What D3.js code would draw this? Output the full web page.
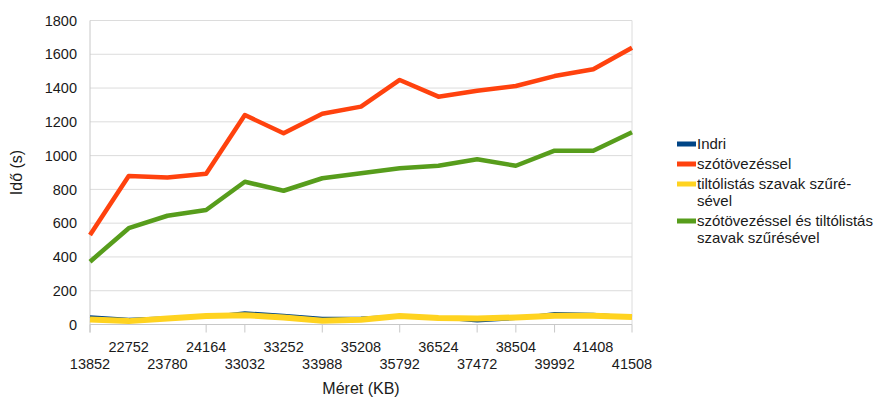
<!DOCTYPE html>
<html>
<head>
<meta charset="utf-8">
<script src="https://cdn.jsdelivr.net/npm/d3@7"></script>
<style>
  body { margin: 0; background: #fff; }
  text { font-family: "Liberation Sans", Arial, sans-serif; fill: #1a1a1a; }
</style>
</head>
<body>
<script>
// categories (file size, KB)
const sizes = ['13852', '22752', '23780', '24164', '33032', '33252', '33988', '35208',
    '35792', '36524', '37472', '38504', '39992', '41408', '41508'];

// series values (seconds)
const indri = [46, 31, 40, 45, 70, 55, 37, 38, 50, 40, 20, 35, 65, 60, 45];
const stemming = [530, 879, 871, 893, 1240, 1132, 1248, 1290, 1448, 1349, 1384, 1412, 1471, 1511, 1639];
const stopwords = [30, 20, 35, 50, 55, 42, 22, 28, 50, 38, 35, 42, 52, 52, 45];
const stemmingStop = [372, 570, 644, 678, 845, 792, 866, 895, 925, 940, 978, 940, 1029, 1029, 1138];

const yTicks = [0, 200, 400, 600, 800, 1000, 1200, 1400, 1600, 1800];
// category positions that carry a tick mark in the original
const tickIndices = [0, 3, 4, 6, 8, 10, 11, 12, 14];

const series = [
    { name: ['Indri'], values: indri, color: '#004586', width: 3 },
    { name: ['szótövezéssel'], values: stemming, color: '#ff420e', width: 4.5 },
    { name: ['tiltólistás szavak szűré-', 'sével'], values: stopwords, color: '#ffd320', width: 6 },
    { name: ['szótövezéssel és tiltólistás', 'szavak szűrésével'], values: stemmingStop, color: '#579d1c', width: 4.5 }
];

const width = 876, height = 398;
const margin = { top: 20.5, right: 244, bottom: 73.5, left: 90 };

const svg = d3.select('body').append('svg')
    .attr('width', width)
    .attr('height', height);

const x = d3.scalePoint()
    .domain(sizes)
    .range([margin.left, width - margin.right]);

const y = d3.scaleLinear()
    .domain([0, 1800])
    .range([height - margin.bottom, margin.top]);

// grid
svg.append('g')
    .selectAll('line')
    .data(yTicks.slice(1))
    .join('line')
    .attr('x1', margin.left).attr('x2', width - margin.right)
    .attr('y1', d => y(d)).attr('y2', d => y(d))
    .attr('stroke', '#dcdcdc');

// frame: left axis, right edge, bottom axis
svg.append('line')
    .attr('x1', margin.left).attr('x2', margin.left)
    .attr('y1', y(1800)).attr('y2', y(0) + 8)
    .attr('stroke', '#c8c8c8');
svg.append('line')
    .attr('x1', width - margin.right).attr('x2', width - margin.right)
    .attr('y1', y(1800)).attr('y2', y(0))
    .attr('stroke', '#dcdcdc');
svg.append('line')
    .attr('x1', margin.left).attr('x2', width - margin.right)
    .attr('y1', y(0)).attr('y2', y(0))
    .attr('stroke', '#c8c8c8');

// x tick marks
svg.append('g')
    .selectAll('line')
    .data(tickIndices)
    .join('line')
    .attr('x1', i => x(sizes[i])).attr('x2', i => x(sizes[i]))
    .attr('y1', y(0)).attr('y2', y(0) + 8)
    .attr('stroke', '#c8c8c8');

// y tick labels
svg.append('g')
    .selectAll('text')
    .data(yTicks)
    .join('text')
    .attr('x', margin.left - 13)
    .attr('y', d => y(d))
    .attr('dy', '0.36em')
    .attr('text-anchor', 'end')
    .style('font-size', '14.5px')
    .text(d => d);

// x tick labels, staggered in two rows
svg.append('g')
    .selectAll('text')
    .data(sizes)
    .join('text')
    .attr('x', d => x(d))
    .attr('y', (d, i) => i % 2 ? y(0) + 27 : y(0) + 44)
    .attr('text-anchor', 'middle')
    .style('font-size', '14.5px')
    .text(d => d);

// axis titles
svg.append('text')
    .attr('x', (margin.left + width - margin.right) / 2)
    .attr('y', 394)
    .attr('text-anchor', 'middle')
    .style('font-size', '16px')
    .text('Méret (KB)');

svg.append('text')
    .attr('transform', 'translate(22,' + (y(900)) + ') rotate(-90)')
    .attr('text-anchor', 'middle')
    .style('font-size', '16px')
    .text('Idő (s)');

// lines
const line = d3.line()
    .x((d, i) => x(sizes[i]))
    .y(d => y(d));

svg.append('g')
    .selectAll('path')
    .data(series)
    .join('path')
    .attr('d', d => line(d.values))
    .attr('fill', 'none')
    .attr('stroke', d => d.color)
    .attr('stroke-width', d => d.width)
    .attr('stroke-linejoin', 'round');

// legend
const legend = svg.append('g');
let ly = 144;
series.forEach(s => {
    legend.append('rect')
        .attr('x', 677).attr('y', ly - 2.5)
        .attr('width', 19).attr('height', 5)
        .attr('fill', s.color);
    s.name.forEach((t, k) => {
        legend.append('text')
            .attr('x', 697)
            .attr('y', ly + k * 17)
            .attr('dy', '0.36em')
            .style('font-size', '15px')
            .text(t);
    });
    ly += s.name.length * 17 + 3;
});
</script>
</body>
</html>
